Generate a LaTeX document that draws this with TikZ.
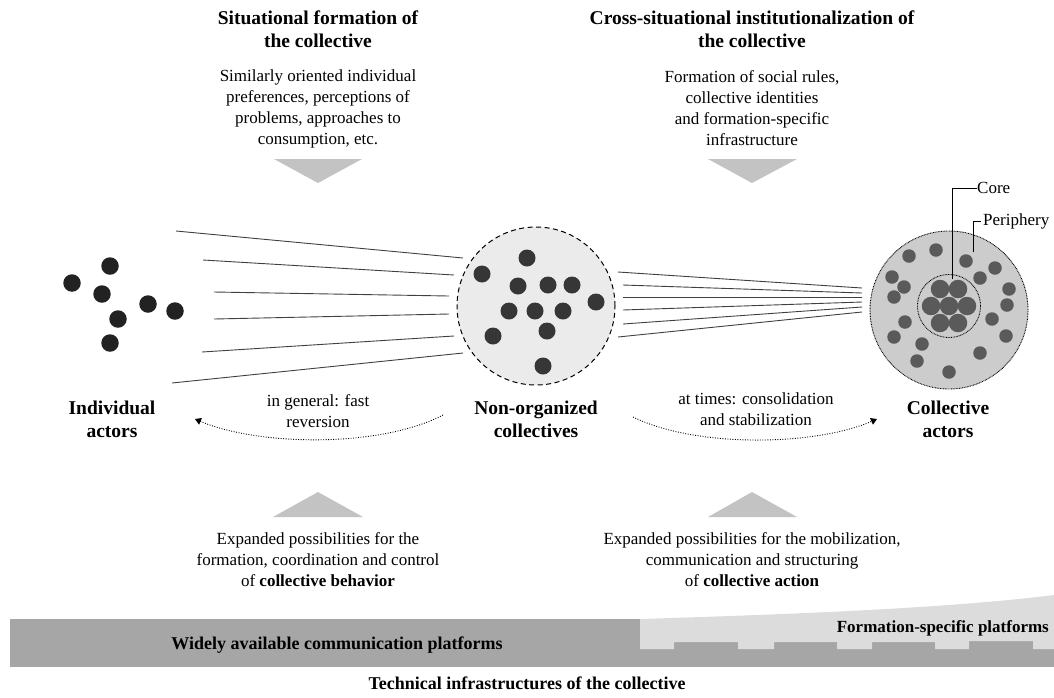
\documentclass[tikz,border=0pt]{standalone}
\usepackage{fontspec}
\setmainfont{Liberation Serif}
\usetikzlibrary{arrows.meta}
\definecolor{dotA}{HTML}{222222}
\definecolor{dotB}{HTML}{363636}
\definecolor{dotC}{HTML}{5A5A5A}
\definecolor{midfill}{HTML}{EBEBEB}
\definecolor{rfill}{HTML}{CCCCCC}
\definecolor{tri}{HTML}{C3C3C3}
\definecolor{bardark}{HTML}{A6A6A6}
\definecolor{barlight}{HTML}{DCDCDC}
\definecolor{ln}{HTML}{404040}
\newcommand\ttlfont{\fontsize{19.5}{23}\selectfont\bfseries}
\newcommand\bdyfont{\fontsize{17}{21}\selectfont}
\begin{document}
\begin{tikzpicture}[x=1pt,y=-1pt,
  ttl/.style={align=center, font=\ttlfont, inner sep=0},
  bdy/.style={align=center, font=\bdyfont, inner sep=0},
  fan/.style={draw=ln, line width=0.9pt},
  trishape/.style={fill=tri},
  dotind/.style={circle, fill=dotA, inner sep=0, minimum size=17.5pt},
  dotmid/.style={circle, fill=dotB, inner sep=0, minimum size=17pt},
  dotcore/.style={circle, fill=dotC, inner sep=0, minimum size=18.5pt},
  dotper/.style={circle, fill=dotC, inner sep=0, minimum size=13.5pt},
  flowarc/.style={draw=black, line width=0.9pt, dash pattern=on 0.9pt off 1.6pt, -{Triangle[width=7pt,length=6pt]}},
  lbl/.style={draw=black, line width=1pt}
]
\useasboundingbox (0,0) rectangle (1054,697);

% titles
\node[ttl] (t1) at (318,29.5) {Situational formation of\\the collective};
\node[bdy] (b1) at (318,109) {Similarly oriented individual\\preferences, perceptions of\\problems, approaches to\\consumption, etc.};
\fill[trishape] (274,159) -- (362,159) -- (318,183) -- cycle;

\node[ttl] (t2) at (752,29.5) {Cross-situational institutionalization of\\the collective};
\node[bdy] (b2) at (752,108) {Formation of social rules,\\collective identities\\and formation-specific\\infrastructure};
\fill[trishape] (708,159) -- (797,159) -- (752,183) -- cycle;

% fan lines left
\draw[fan] (176,231) -- (463,258);
\draw[fan] (203,260) -- (454,275);
\draw[fan] (214,292) -- (449,296);
\draw[fan] (214,319) -- (449,314);
\draw[fan] (202,352) -- (454,336);
\draw[fan] (172,383) -- (463,353);

% fan lines right
\draw[fan] (618,272) -- (862,288);
\draw[fan] (623,285) -- (862,293);
\draw[fan] (623,297) -- (862,297);
\draw[fan] (623,310) -- (862,302);
\draw[fan] (623,324) -- (862,307);
\draw[fan] (618,337) -- (862,312);

% individual actors
\foreach \x/\y [count=\i] in {72/283,110/266,102/294,148/304,175/311,118/319,110/343}
  \node[dotind] (ia\i) at (\x,\y) {};

% non-organized collective
\node[circle, draw=black, line width=1pt, dash pattern=on 5pt off 3.5pt, fill=midfill, minimum size=158pt, inner sep=0] (noc) at (536,306) {};
\foreach \x/\y [count=\i] in {527/258,482/274,518/286,548/285,572/285,596/302,509/311,535/311,563/311,547/331,493/336,543/366}
  \node[dotmid] (nm\i) at (\x,\y) {};

% collective actor
\node[circle, draw=black, line width=0.9pt, dash pattern=on 0.8pt off 0.8pt, fill=rfill, minimum size=158pt, inner sep=0] (ca) at (949,310) {};
\node[circle, draw=black, line width=0.9pt, dash pattern=on 0.8pt off 0.8pt, minimum size=63pt, inner sep=0] (core) at (949,306) {};
\foreach \x/\y [count=\i] in {940/289,958/289,931/306,949/306,967/306,940/323,958/323}
  \node[dotcore] (cc\i) at (\x,\y) {};
\foreach \x/\y [count=\i] in {936/250,909/256,966/261,995/268,892/277,904/287,980/278,1009/289,894/297,1007/305,905/322,992/319,894/337,1006/336,922/344,917/361,980/353,949/372}
  \node[dotper] (pp\i) at (\x,\y) {};

% core / periphery labels
\node[bdy, anchor=west] (corel) at (977,188) {Core};
\node[bdy, anchor=west] (perl) at (983,221) {Periphery};
\coordinate (corept) at (952,279);
\coordinate (perpt) at (973,252);
\draw[lbl] (corept) |- (corel.west);
\draw[lbl] (perpt) |- ([xshift=-2pt]perl.west);

% names
\node[ttl] (n1) at (112,419) {Individual\\actors};
\node[ttl] (n2) at (536,419) {Non-organized\\collectives};
\node[ttl] (n3) at (948,419) {Collective\\actors};

\node[bdy] (r1) at (318,411) {in general: fast\\reversion};
\node[bdy] (r2) at (756,409) {at times: consolidation\\and stabilization};
\coordinate (a1s) at (443,415);
\coordinate (a1e) at (195,419);
\coordinate (a2s) at (633,417);
\coordinate (a2e) at (877,419);
\draw[flowarc] (a1s) .. controls (380,448) and (258,446) .. (a1e);
\draw[flowarc] (a2s) .. controls (696,448) and (815,446) .. (a2e);

% lower triangles and texts
\fill[trishape] (273,517) -- (363,517) -- (318,492) -- cycle;
\fill[trishape] (708,517) -- (797,517) -- (752,492) -- cycle;
\node[bdy] (e1) at (318,560) {Expanded possibilities for the\\formation, coordination and control\\of \textbf{collective behavior}};
\node[bdy] (e2) at (752,560) {Expanded possibilities for the mobilization,\\communication and structuring\\of \textbf{collective action}};

% infrastructure bar
\fill[bardark] (10,619) rectangle (1054,667);
\fill[barlight] (640,619) .. controls (800,614) and (950,608) .. (1054,595)
  -- (1054,649) -- (1033,649) -- (1033,641) -- (969,641) -- (969,649)
  -- (935,649) -- (935,642) -- (872,642) -- (872,649)
  -- (837,649) -- (837,642) -- (774,642) -- (774,649)
  -- (738,649) -- (738,642) -- (674,642) -- (674,649)
  -- (640,649) -- cycle;
\node[font=\fontsize{18}{21}\selectfont\bfseries, inner sep=0] (w1) at (337,645) {Widely available communication platforms};
\node[font=\fontsize{17}{20}\selectfont\bfseries, inner sep=0, anchor=east] (w2) at (1049,628) {Formation-specific platforms};
\node[font=\fontsize{18}{21}\selectfont\bfseries, inner sep=0] (tech) at (527,683) {Technical infrastructures of the collective};
\end{tikzpicture}
\end{document}
